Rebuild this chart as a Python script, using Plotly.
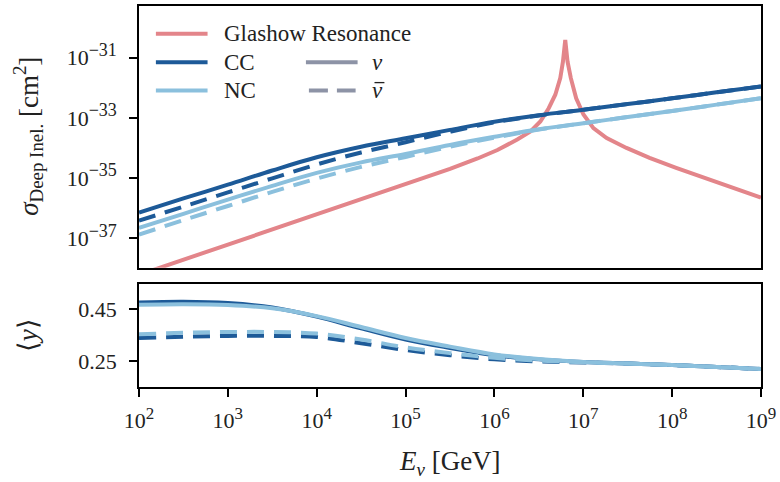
import plotly.graph_objects as go

# ---------------- data ----------------
# energy grid, log10(E/GeV)
logE = [2.0, 2.5, 3.0, 3.5, 4.0, 4.5, 5.0, 5.5, 6.0, 6.5, 7.0, 7.5, 8.0, 8.5, 9.0]

# log10 cross sections [cm^2]
cc_nu    = [-36.15, -35.68, -35.22, -34.75, -34.31, -33.96, -33.68, -33.40, -33.13, -32.91, -32.73, -32.54, -32.35, -32.15, -31.96]
cc_nubar = [-36.42, -35.95, -35.48, -35.01, -34.55, -34.15, -33.81, -33.46, -33.15, -32.92, -32.73, -32.54, -32.35, -32.15, -31.96]
nc_nu    = [-36.66, -36.19, -35.72, -35.26, -34.83, -34.48, -34.20, -33.90, -33.63, -33.38, -33.18, -32.97, -32.77, -32.56, -32.35]
nc_nubar = [-36.88, -36.40, -35.93, -35.46, -35.02, -34.63, -34.30, -33.96, -33.66, -33.39, -33.18, -32.97, -32.77, -32.56, -32.35]

# Glashow resonance
gr_logE = [2.0, 3.0, 4.0, 5.0, 5.25, 5.5, 5.81, 6.034, 6.257, 6.406, 6.517, 6.611, 6.685, 6.741, 6.771, 6.797,
           6.823, 6.860, 6.920, 7.002, 7.114, 7.263, 7.486, 7.746, 8.045, 8.455, 9.0]
gr_sig  = [-38.22, -37.21, -36.20, -35.20, -34.96, -34.70, -34.35, -34.07, -33.72, -33.45, -33.12, -32.68, -32.23, -31.68, -31.13, -30.41,
           -31.13, -31.68, -32.35, -32.89, -33.34, -33.67, -34.00, -34.33, -34.66, -35.10, -35.65]

# mean inelasticity <y>
y_cc_nu    = [0.474, 0.477, 0.472, 0.455, 0.420, 0.375, 0.332, 0.300, 0.272, 0.256, 0.246, 0.240, 0.234, 0.227, 0.219]
y_cc_nubar = [0.338, 0.343, 0.346, 0.346, 0.342, 0.318, 0.292, 0.272, 0.256, 0.248, 0.244, 0.240, 0.234, 0.227, 0.219]
y_nc_nu    = [0.466, 0.468, 0.465, 0.452, 0.422, 0.380, 0.338, 0.305, 0.275, 0.257, 0.246, 0.240, 0.234, 0.227, 0.219]
y_nc_nubar = [0.352, 0.358, 0.361, 0.361, 0.355, 0.332, 0.302, 0.280, 0.262, 0.251, 0.245, 0.240, 0.234, 0.227, 0.219]

x_tick_exp = [2, 3, 4, 5, 6, 7, 8, 9]
y_tick_exp = [-37, -35, -33, -31]
y2_ticks = [0.25, 0.45]

# ---------------- style ----------------
PINK = "#e3858a"
DARK = "#1d5a98"
LIGHT = "#8bc0dd"
GREY = "#8d93a6"
INK = "#222222"
FONT = "Liberation Serif"
LW = 4
DASH = "17px,10px"

E = [10 ** v for v in logE]
fig = go.Figure()

def add(x, y, color, dash, xa, ya, shape="spline"):
    line = dict(color=color, width=LW, dash=dash, shape=shape)
    if shape == "spline":
        line["smoothing"] = 1.0
    fig.add_trace(go.Scatter(x=x, y=y, mode="lines", xaxis=xa, yaxis=ya, showlegend=False,
                             line=line, hoverinfo="skip"))

# top panel
add([10 ** v for v in gr_logE], [10 ** v for v in gr_sig], PINK, "solid", "x", "y", shape="linear")
add(E, [10 ** v for v in cc_nu], DARK, "solid", "x", "y")
add(E, [10 ** v for v in cc_nubar], DARK, DASH, "x", "y")
add(E, [10 ** v for v in nc_nu], LIGHT, "solid", "x", "y")
add(E, [10 ** v for v in nc_nubar], LIGHT, DASH, "x", "y")

# bottom panel
add(E, y_cc_nu, DARK, "solid", "x2", "y2")
add(E, y_cc_nubar, DARK, DASH, "x2", "y2")
add(E, y_nc_nu, LIGHT, "solid", "x2", "y2")
add(E, y_nc_nubar, LIGHT, DASH, "x2", "y2")

# ---------------- layout ----------------
L, R, T, B = 139, 15, 4, 95
W, H = 780, 482
ph = H - T - B
pw = W - L - R

def py(yimg):
    return (H - B - yimg) / ph

def px(ximg):
    return (ximg - L) / pw

axis_common = dict(showline=True, linecolor="black", linewidth=1.6, mirror=True,
                   showgrid=False, zeroline=False, ticks="outside", ticklen=8, tickwidth=1.5,
                   tickcolor="black", tickfont=dict(family=FONT, size=22, color=INK),
                   ticklabeloverflow="allow")

fig.update_layout(
    width=W, height=H,
    margin=dict(l=L, r=R, t=T, b=B),
    plot_bgcolor="white", paper_bgcolor="white",
    font=dict(family=FONT, size=22, color=INK),
    xaxis=dict(**{**axis_common, "ticks": ""}, type="log", range=[2, 9], domain=[0, 1], anchor="y",
               showticklabels=False, matches="x2",
               tickvals=[10 ** v for v in x_tick_exp]),
    yaxis=dict(**axis_common, type="log", range=[-37.98, -29.28], domain=[py(267), 1.0], anchor="x",
               tickvals=[10 ** v for v in y_tick_exp],
               ticktext=["10<sup><span style='font-size:18px'>\u2212%d</span></sup>" % (-v) for v in y_tick_exp],
               ticklabelstandoff=8),
    xaxis2=dict(**axis_common, type="log", range=[2, 9], domain=[0, 1], anchor="y2",
                tickvals=[10 ** v for v in x_tick_exp],
                ticktext=["10<sup><span style='font-size:17px'>%d</span></sup>" % v for v in x_tick_exp],
                ticklabelstandoff=5),
    yaxis2=dict(**axis_common, range=[0.15, 0.547], domain=[0, py(283)], anchor="x2",
                tickvals=y2_ticks, ticktext=["%.2f" % v for v in y2_ticks],
                ticklabelstandoff=8),
)

# axis titles
ann = []
ann.append(dict(text="<i>σ</i><sub>Deep Inel.</sub> [cm<sup>2</sup>]", xref="paper", yref="paper",
                x=0, y=(py(267) + 1.0) / 2, xshift=28 - L, textangle=-90, showarrow=False,
                xanchor="center", yanchor="middle", font=dict(family=FONT, size=27, color=INK)))
ann.append(dict(text="⟨<i>y</i>⟩", xref="paper", yref="paper",
                x=0, y=py(335), xshift=28 - L, textangle=-90, showarrow=False,
                xanchor="center", yanchor="middle", font=dict(family=FONT, size=27, color=INK)))
ann.append(dict(text="<i>E<sub>ν</sub></i> [GeV]", xref="paper", yref="paper",
                x=0.5, y=0, yshift=-(463 - (H - B)), showarrow=False,
                xanchor="center", yanchor="middle", font=dict(family=FONT, size=27, color=INK)))

# manual legend
shapes = []
leg_rows = [
    ("Glashow Resonance", PINK, "solid", 156, 208, 32, 223),
    ("CC", DARK, "solid", 156, 208, 60.5, 223),
    ("NC", LIGHT, "solid", 156, 208, 89, 223),
    ("<i>ν</i>", GREY, "solid", 307, 359, 60.5, 371),
    ("<i>ν</i>", GREY, "dash", 310, 357, 89, 371),
]
for text, col, dash, x0, x1, yy, tx in leg_rows:
    shapes.append(dict(type="line", xref="paper", yref="paper",
                       x0=px(x0), x1=px(x1), y0=py(yy), y1=py(yy),
                       line=dict(color=col, width=LW, dash=("19px,9px" if dash == "dash" else "solid"))))
    ann.append(dict(text=text, xref="paper", yref="paper", x=px(tx), y=py(yy), showarrow=False,
                    xanchor="left", yanchor="middle", font=dict(family=FONT, size=23, color=INK)))
# bar over the second nu (anti-neutrino)
shapes.append(dict(type="line", xref="paper", yref="paper",
                   x0=px(376), x1=px(386), y0=py(81), y1=py(81),
                   line=dict(color=INK, width=1.3)))

fig.update_layout(annotations=ann, shapes=shapes)

fig.write_html("out.html")
